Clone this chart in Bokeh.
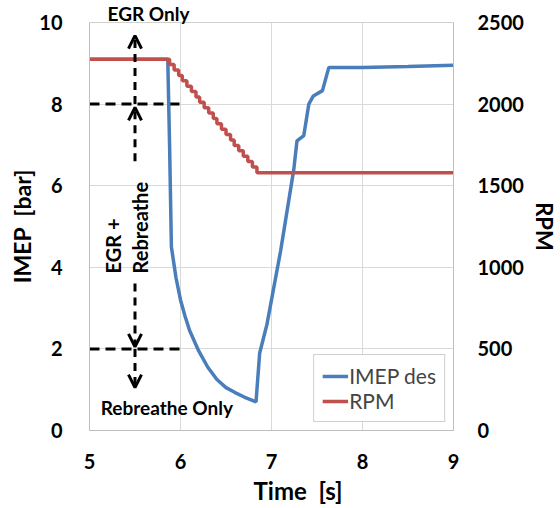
from bokeh.plotting import figure
from bokeh.models import Range1d, LinearAxis, Label, Arrow, OpenHead, Legend, LegendItem, FixedTicker, Title
from bokeh.embed import file_html
from bokeh.resources import INLINE

# IMEP desired [bar] vs time [s]
imep_t = [5.00, 5.50, 5.86, 5.88, 5.90, 5.95, 6.00, 6.05, 6.10, 6.20, 6.30, 6.40, 6.50, 6.60, 6.70, 6.83,
          6.87, 6.95, 7.10, 7.245, 7.28, 7.355, 7.41, 7.46, 7.56, 7.63, 8.00, 8.50, 9.00]
imep = [9.10, 9.10, 9.10, 7.00, 4.50, 3.75, 3.20, 2.80, 2.45, 1.95, 1.55, 1.25, 1.05, 0.93, 0.82, 0.70,
        1.90, 2.60, 4.40, 6.40, 7.10, 7.23, 8.00, 8.20, 8.33, 8.90, 8.90, 8.92, 8.95]

# Engine speed [RPM] staircase
rpm_t = [5.00, 5.88, 5.93, 5.98, 6.02, 6.07, 6.12, 6.17, 6.21, 6.26, 6.31, 6.36, 6.40, 6.45,
         6.50, 6.55, 6.59, 6.64, 6.69, 6.74, 6.79, 6.84, 9.00]
rpm = [2275, 2242, 2209, 2176, 2143, 2110, 2077, 2044, 2011, 1978, 1945, 1912, 1879, 1846,
       1813, 1780, 1747, 1714, 1681, 1648, 1615, 1580, 1580]

x_ticks = [5, 6, 7, 8, 9]
imep_ticks = [0, 2, 4, 6, 8, 10]
rpm_ticks = [0, 500, 1000, 1500, 2000, 2500]

# mode thresholds [bar]
egr_only_limit = 8
rebreathe_only_limit = 2

FONT = "Lato"
BLUE = "#4a7ebb"
RED = "#c0504d"
NB = "\u00a0"

p = figure(width=560, height=508, output_backend="svg", toolbar_location=None,
           x_range=Range1d(5, 9), y_range=Range1d(0, 10),
           min_border_left=89, min_border_right=107, min_border_top=22, min_border_bottom=78)
p.extra_y_ranges = {"rpm": Range1d(0, 2500)}
p.background_fill_color = "white"
p.border_fill_color = "white"
p.outline_line_color = "#d0d0d0"

p.xaxis.ticker = FixedTicker(ticks=x_ticks)
p.yaxis.ticker = FixedTicker(ticks=imep_ticks)
p.yaxis.axis_label = "IMEP" + NB + NB + "[bar]"

raxis = LinearAxis(y_range_name="rpm", ticker=FixedTicker(ticks=rpm_ticks), axis_label="RPM")
p.add_layout(raxis, "right")

for ax in [p.xaxis[0], p.yaxis[0], raxis]:
    ax.axis_line_color = "#bfbfbf"
    ax.major_tick_line_color = None
    ax.minor_tick_line_color = None
    ax.major_label_text_font = FONT
    ax.major_label_text_font_style = "bold"
    ax.major_label_text_font_size = "20px"
    ax.major_label_text_color = "black"
    ax.axis_label_text_font = FONT
    ax.axis_label_text_font_style = "bold"
    ax.axis_label_text_font_size = "23px"
    ax.axis_label_text_color = "black"
    ax.major_label_standoff = 17
    ax.axis_label_standoff = 4
p.yaxis[0].major_label_standoff = 21
p.yaxis[0].axis_label_standoff = 0
raxis.major_label_standoff = 18
raxis.axis_label_standoff = 4
raxis.axis_label_text_font_size = "22px"

p.xgrid.grid_line_color = "#d9d9d9"
p.ygrid.grid_line_color = "#d9d9d9"
p.xgrid.ticker = FixedTicker(ticks=x_ticks)
p.ygrid.ticker = FixedTicker(ticks=imep_ticks)

# threshold dashed lines
p.line([5, 6], [egr_only_limit, egr_only_limit], line_color="black", line_width=3, line_dash="10 6")
p.line([5, 6], [rebreathe_only_limit, rebreathe_only_limit], line_color="black", line_width=3, line_dash="10 6")

r_imep = p.line(imep_t, imep, line_color=BLUE, line_width=3.5)
r_rpm = p.step(rpm_t, rpm, mode="after", line_color=RED, line_width=3.5, y_range_name="rpm")

# arrows
def arrow(y0, y1):
    p.add_layout(Arrow(end=OpenHead(size=13, line_width=3, line_color="black"),
                       x_start=5.5, y_start=y0, x_end=5.5, y_end=y1,
                       line_width=3, line_dash="8 6", line_color="black"))

arrow(8.0, 9.68)
arrow(6.6, 7.92)
arrow(3.6, 2.05)
arrow(2.0, 1.05)

def label(txt, x, y, angle=0, align="center", size="19px"):
    p.add_layout(Label(x=x, y=y, text=txt, text_font=FONT, text_font_style="bold",
                       text_font_size=size, text_align=align, text_baseline="middle",
                       angle=angle, text_color="black"))

label("Rebreathe Only", 5.85, 0.56)
label("EGR +", 5.255, 3.85, angle=1.5708, align="left", size="20px")
label("Rebreathe", 5.555, 3.85, angle=1.5708, align="left", size="20px")

p.add_layout(Title(text="EGR Only", align="left", offset=18, text_font=FONT,
                   text_font_style="bold", text_font_size="19px", standoff=-4,
                   text_color="black"), "above")

p.add_layout(Title(text="Time" + NB + NB + "[s]", align="left", offset=164, text_font=FONT,
                   text_font_style="bold", text_font_size="24px", standoff=4,
                   text_color="black"), "below")

legend = Legend(items=[LegendItem(label="IMEP des", renderers=[r_imep]),
                       LegendItem(label="RPM", renderers=[r_rpm])],
                location="bottom_right", margin=8)
legend.label_text_font = FONT
legend.label_text_font_size = "21px"
legend.border_line_color = "#a0a0a0"
legend.glyph_width = 26
legend.label_standoff = 1
legend.spacing = 0
legend.padding = 8
legend.background_fill_alpha = 1
p.add_layout(legend)

open("out.html", "w").write(file_html(p, INLINE))
